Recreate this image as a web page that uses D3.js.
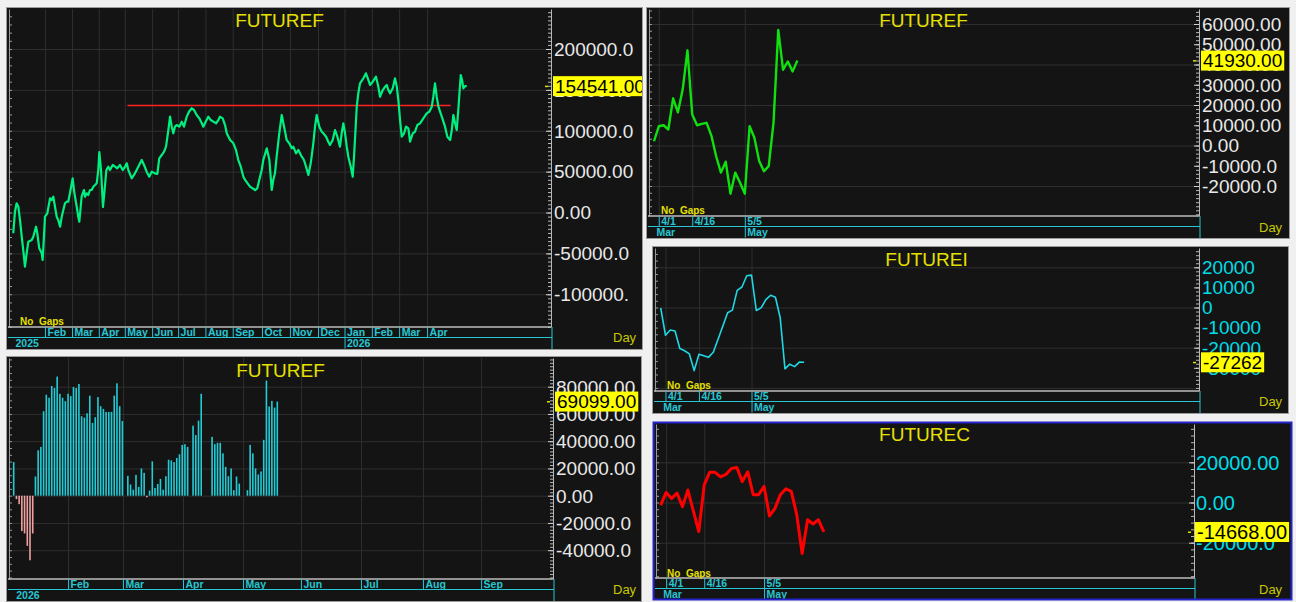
<!DOCTYPE html>
<html>
<head>
<meta charset="utf-8">
<script src="https://cdn.jsdelivr.net/npm/d3@7"></script>
<style>
body { margin: 0; background: #f0f0f0; }
svg { display: block; font-family: "Liberation Sans", Arial, sans-serif; }
</style>
</head>
<body>
<svg id="chart" width="1296" height="602"></svg>
<script>
// ---- panel 1: FUTUREF daily line, [trading-day index, value]
const p1Series = [
  [0.2,-25400],[1.5,1000],[2.8,11300],[4.1,7100],[5.4,-9200],[6.7,-29600],[7.9,-45900],[9.2,-66300],[10.5,-49900],[11.8,-35700],
  [14.4,-33600],[15.6,-29600],[17.7,-17400],[18.7,-25400],[20.2,-43800],[22.1,-49900],[22.8,-58100],[23.8,-29600],[24.6,-5100],[26.4,-1000],
  [28.5,17400],[29.8,15300],[31,19300],[32.3,7100],[33.6,-5100],[34.8,-9200],[36.2,-17400],[37.5,-5100],[38.7,3100],[40,11300],
  [41.3,13200],[42.5,13200],[43.8,23500],[45.2,35700],[45.9,41800],[46.9,27500],[47.7,19300],[49,7100],[50.2,-5100],[51,-11300],
  [52.1,7100],[52.8,19300],[53.6,23500],[54.6,27500],[55.4,19300],[56.7,23500],[57.9,21400],[59.2,27500],[60.5,27500],[61.8,31600],
  [63.1,33600],[64.4,35700],[65.6,52000],[66.4,74000],[67.7,52000],[69.2,6700],[70.8,33600],[71.8,52000],[73.3,56000],[74.6,52000],
  [76.7,58100],[78.5,56000],[80.2,54100],[82.3,58100],[84.4,52000],[86.2,56000],[87.5,60200],[88.7,52000],[91.3,41800],[93.8,47900],
  [96.4,56000],[99,64200],[100.8,58100],[102.8,49900],[104.8,43800],[106.7,49900],[109.2,47900],[111,47100],[112.5,66300],[114.4,70300],
  [116.2,74400],[117.7,80500],[119.5,100900],[120.8,117200],[122.1,105000],[123.3,96900],[124.6,105000],[125.9,107000],[127.9,105000],[129.8,111100],
  [131.5,105000],[133.6,117200],[135.4,123300],[137.5,127500],[139.2,125400],[141.3,119300],[143.3,115200],[145.2,109100],[146.4,105000],[148.2,111100],
  [150.2,117200],[152.1,113100],[154.1,111100],[156.2,109100],[157.9,113100],[159.2,117200],[161.3,115200],[163.1,107000],[164.4,96900],[167,88700],
  [169.5,84600],[171.5,76500],[173.3,64200],[175.2,56000],[177.2,43800],[178.5,39800],[182.3,31600],[186.2,27500],[187.9,29600],[190,43800],
  [191.3,52000],[192.5,64200],[195.2,78500],[197.2,64200],[199,27500],[200.2,39800],[201.5,47900],[202.8,68300],[204.8,96900],[206.7,119300],
  [208.5,105000],[210.5,88700],[212.5,84600],[214.4,78500],[215.6,80500],[217.7,72400],[219.5,76500],[222.1,68300],[223.8,64200],[225.4,56000],
  [227.2,45900],[229,60200],[231,84600],[232.3,105000],[233.6,119300],[235.6,105000],[237.5,98800],[238.7,96900],[240.8,92700],[242.5,86600],
  [243.8,82600],[245.9,88700],[247.7,100900],[249.5,92700],[251.5,80500],[252.8,96900],[254.1,109100],[255.4,96900],[256.7,80500],[257.9,68300],
  [259.8,56000],[261.3,43800],[262.3,68300],[263.3,96900],[264.4,129400],[265.6,145800],[266.9,158000],[269.5,164200],[271.5,170300],[273.3,162100],
  [274.6,156000],[276.7,160000],[279.2,166100],[281,153900],[282.3,141600],[284.4,149800],[286.2,153900],[287.5,156000],[288.7,149800],[290,145800],
  [292.1,151900],[293.8,164200],[295.2,153900],[296.4,137600],[297.7,113100],[299,92700],[300.8,96900],[302.3,105000],[304.1,103000],[305.4,86600],
  [307.5,96900],[309.2,98800],[311,107000],[313.1,109100],[315.6,115200],[318.2,121300],[320.2,123300],[322.1,129400],[323.3,141600],[324.6,158000],
  [325.9,141600],[327.2,129400],[329.8,117200],[332.3,105000],[334.1,92700],[336.2,88700],[337.5,100900],[338.7,119300],[340,109100],[341.3,100900],
  [342.5,125400],[344.4,168200],[345.4,162100],[346.4,151900],[347.7,154700],[349,154541]
];
const p1Level = { value: 131000, from: 88, to: 336.7 };
const p1MonthDay = [24.6,45.4,66,86,107,127,148,169,191.5,213,234.6,255,276,297,318.5];
const p1MonthText = ["Feb","Mar","Apr","May","Jun","Jul","Aug","Sep","Oct","Nov","Dec","Jan","Feb","Mar","Apr"];
const p1YearDay = [0,255];
const p1YearText = ["2025","2026"];
const p1TickVal = [200000,150000,100000,50000,0,-50000,-100000];
const p1TickText = ["200000.0","150000.0","100000.0","50000.00","0.00","-50000.0","-100000."];

// ---- panel 2: FUTUREF short line
const p2Value = [2100,9500,10000,7900,23300,16400,27600,47000,15300,10000,10700,11200,4900,-5300,-13400,-8000,-23800,-13400,-18400,-23800,9500,3800,-7700,-12700,-10200,11200,57100,37400,41500,36600,41930];
const p2TickVal = [60000,50000,40000,30000,20000,10000,0,-10000,-20000];
const p2TickText = ["60000.00","50000.00","40000.00","30000.00","20000.00","10000.00","0.00","-10000.0","-20000.0"];

// ---- panel 3: FUTUREI
const p3Value = [-200,-13800,-11200,-11700,-20400,-21500,-23100,-31400,-23300,-24000,-24800,-22300,-15800,-9200,-2600,-1300,8500,10200,15800,16100,-1500,-200,3900,6100,5100,-5100,-30500,-28200,-29400,-27200,-27262];
const p3TickVal = [20000,10000,0,-10000,-20000,-30000];
const p3TickText = ["20000","10000","0","-10000","-20000","-30000"];

// ---- panel 4: FUTUREF bars
const p4Value = [24700,-2500,-6200,-26000,-27700,-36800,-47400,-27700,14100,33300,35800,62000,74100,71900,80500,79000,87400,74800,71900,69400,74800,73100,79800,79000,82000,58300,57300,60500,73400,53400,57600,72400,65700,63700,61500,61500,61500,73400,82500,65700,54800,0,14600,8200,4400,15300,6400,20000,16800,-1200,3700,25200,5700,8600,12300,4400,14300,26400,25900,24700,27700,30400,37300,37800,35800,0,51400,44500,55100,74800,0,0,0,43200,37800,38800,38800,31100,21200,14300,20000,4000,14100,8900,0,0,4000,37300,31100,20000,15600,17800,41000,84500,65500,69600,64700,69099];
const p4MonthDay = [20,40.2,62.3,84.4,105.7,127.8,150.6,172];
const p4MonthText = ["Feb","Mar","Apr","May","Jun","Jul","Aug","Sep"];
const p4TickVal = [80000,60000,40000,20000,0,-20000,-40000];
const p4TickText = ["80000.00","60000.00","40000.00","20000.00","0.00","-20000.0","-40000.0"];

// ---- panel 5: FUTUREC
const p5Value = [-1300,5000,1950,4700,-2100,6200,-4200,-14500,8800,15000,15000,12700,14000,16900,17400,10400,15300,3900,3900,8000,-6700,-2900,3900,6800,5500,-5900,-25400,-8600,-10700,-8600,-14668];
const p5TickVal = [20000,0,-20000];
const p5TickText = ["20000.00","0.00","-20000.0"];

// shared short-axis labels (panels 2, 3, 5)
const shortDayIdx = [1,8,19];
const shortDayText = ["4/1","4/16","5/5"];
const shortMonthIdx = [0,19];
const shortMonthText = ["Mar","May"];

const CYAN = "#27c6d2";
const svg = d3.select("#chart");

function drawPanel(p) {
  const clipId = "clip" + p.key;
  svg.append("clipPath").attr("id", clipId).append("rect")
    .attr("x", p.box[0]).attr("y", p.box[1])
    .attr("width", p.box[2] - p.box[0]).attr("height", p.box[3] - p.box[1]);
  const g = svg.append("g").attr("clip-path", "url(#" + clipId + ")");

  g.append("rect")
    .attr("x", p.box[0]).attr("y", p.box[1])
    .attr("width", p.box[2] - p.box[0]).attr("height", p.box[3] - p.box[1])
    .attr("fill", "#141414");

  const ref = d3.scaleLinear().domain([0, p.refVal]).range([p.zeroY, p.refY]);
  const y = d3.scaleLinear().domain([ref.invert(p.bottom), ref.invert(p.top)]).range([p.bottom, p.top]);
  const x = d3.scaleLinear().domain(p.xDomain).range(p.xRange);

  // horizontal grid
  g.append("g").attr("transform", "translate(" + p.left + ",0)")
    .call(d3.axisRight(y).tickValues(p.grid).tickSize(p.axisX - p.left).tickFormat(""))
    .call(a => a.select(".domain").remove())
    .selectAll("line").attr("stroke", "#2f2f2f");

  // vertical grid
  g.append("g").attr("transform", "translate(0," + p.bottom + ")")
    .call(d3.axisTop(x).tickValues(p.vgrid).tickSize(p.bottom - p.top).tickFormat(""))
    .call(a => a.select(".domain").remove())
    .selectAll("line").attr("stroke", "#2f2f2f");

  // left edge minor ticks
  const dom = y.domain();
  const leftTicks = d3.range(Math.ceil(dom[0] / p.leftStep) * p.leftStep, dom[1], p.leftStep);
  g.append("g").attr("transform", "translate(" + (p.left + 1) + ",0)")
    .call(d3.axisRight(y).tickValues(leftTicks).tickSize(3).tickSizeOuter(0).tickFormat(""))
    .call(a => a.selectAll("line,path").attr("stroke", "#9a9a9a"));

  // right axis ticks
  const rightTicks = d3.range(Math.ceil(dom[0] / p.rightStep) * p.rightStep, dom[1], p.rightStep);
  g.append("g").attr("transform", "translate(" + p.axisX + ",0)")
    .call(d3.axisLeft(y).tickValues(rightTicks).tickSize(3).tickSizeOuter(0).tickFormat(""))
    .call(a => a.selectAll("line,path").attr("stroke", "#b8b8b8"));
  g.append("g").attr("transform", "translate(" + p.axisX + ",0)")
    .call(d3.axisLeft(y).tickValues(p.tickVal).tickSize(5).tickFormat(""))
    .call(a => a.select(".domain").remove())
    .selectAll("line").attr("stroke", "#d0d0d0");

  // series
  p.draw(g, x, y);

  // x axis area
  g.append("line").attr("x1", p.left).attr("x2", p.axisX)
    .attr("y1", p.bottom).attr("y2", p.bottom).attr("stroke", "#bdbdbd").attr("stroke-width", 1.5);
  g.append("line").attr("x1", p.left).attr("x2", p.axisX + 1)
    .attr("y1", p.bottom + 10.5).attr("y2", p.bottom + 10.5).attr("stroke", CYAN);
  g.append("line").attr("x1", p.axisX + 1).attr("x2", p.axisX + 1)
    .attr("y1", p.bottom).attr("y2", p.box[3]).attr("stroke", CYAN);

  function row(idx, text, y0, size, skipFirst) {
    const a = g.append("g").attr("transform", "translate(0," + y0 + ")")
      .call(d3.axisBottom(x).tickValues(idx).tickSize(size).tickFormat((d, i) => text[i]));
    a.select(".domain").remove();
    a.selectAll("line").attr("stroke", CYAN)
      .attr("display", d => (skipFirst && d === idx[0]) ? "none" : null);
    a.selectAll("text")
      .attr("fill", CYAN).attr("text-anchor", "start")
      .attr("x", 2).attr("y", 9).attr("dy", 0)
      .attr("font-size", 10.5).attr("font-weight", "bold")
      .attr("font-family", "'Liberation Sans', Arial, sans-serif");
  }
  row(p.row1Idx, p.row1Text, p.bottom, 10.5, false);
  row(p.row2Idx, p.row2Text, p.bottom + 10.5, 11, true);

  // texts
  const cx = (p.left + p.axisX) / 2;
  g.append("text").attr("x", cx).attr("y", p.titleY).attr("text-anchor", "middle")
    .attr("fill", "#e6e000").attr("font-size", 19).text(p.title);
  if (p.noGaps) {
    g.append("text").attr("x", p.noGaps[0]).attr("y", p.noGaps[1])
      .attr("fill", "#e6e000").attr("font-size", 10).attr("font-weight", "bold")
      .attr("xml:space", "preserve").style("white-space", "pre").text("No  Gaps");
  }
  g.append("text").attr("x", p.dayPos[0]).attr("y", p.dayPos[1])
    .attr("fill", "#c8c800").attr("font-size", 13).text("Day");

  // right axis labels
  const lab = g.append("g").attr("transform", "translate(" + (p.axisX + p.labelPad) + ",0)");
  lab.selectAll("text").data(p.tickVal).enter().append("text")
    .attr("x", 0).attr("y", d => y(d) + p.labelSize * 0.36)
    .attr("fill", p.labelColor).attr("font-size", p.labelSize)
    .text((d, i) => p.tickText[i]);

  // last value marker
  const ly = y(p.last);
  const t = lab.append("text").attr("x", 1).attr("y", ly + p.labelSize * 0.36)
    .attr("fill", "#000").attr("font-size", p.labelSize).text(p.lastText);
  const w = t.node().getComputedTextLength();
  lab.insert("rect", "text:last-child").attr("x", -1).attr("y", ly - 10)
    .attr("width", w + 4).attr("height", 20).attr("fill", "#ffff00");
  g.append("rect").attr("x", p.axisX - 6).attr("y", ly - 0.5).attr("width", 3).attr("height", 1.5).attr("fill", "#e6e000");

  // frame
  svg.append("rect")
    .attr("x", p.box[0] - 0.5).attr("y", p.box[1] - 0.5)
    .attr("width", p.box[2] - p.box[0] + 1).attr("height", p.box[3] - p.box[1] + 1)
    .attr("fill", "none").attr("stroke", p.border || "#9c9c9c").attr("stroke-width", p.borderW || 1);
}

function lineDraw(values, color, width) {
  return function (g, x, y) {
    const line = d3.line().x((d, i) => x(i)).y(d => y(d));
    g.append("path").datum(values).attr("d", line)
      .attr("fill", "none").attr("stroke", color).attr("stroke-width", width)
      .attr("stroke-linejoin", "round");
  };
}

// panel 1
drawPanel({
  key: 1, box: [7, 8, 642, 349], left: 8, top: 9, axisX: 551, bottom: 327,
  refVal: 200000, refY: 49, zeroY: 212.5,
  xDomain: [0, 349.2], xRange: [13, 467],
  grid: [200000,150000,100000,50000,0,-50000,-100000], vgrid: p1MonthDay,
  leftStep: 10000, rightStep: 5000,
  tickVal: p1TickVal, tickText: p1TickText, labelColor: "#e8e8e8", labelSize: 19, labelPad: 3,
  row1Idx: p1MonthDay, row1Text: p1MonthText, row2Idx: p1YearDay, row2Text: p1YearText,
  title: "FUTUREF", titleY: 27, noGaps: [20, 325], dayPos: [613, 342],
  last: 154541, lastText: "154541.00",
  draw: function (g, x, y) {
    g.append("line")
      .attr("x1", x(p1Level.from)).attr("x2", x(p1Level.to))
      .attr("y1", y(p1Level.value)).attr("y2", y(p1Level.value))
      .attr("stroke", "#ff2020").attr("stroke-width", 1.5);
    const line = d3.line().x(d => x(d[0])).y(d => y(d[1]));
    g.append("path").datum(p1Series).attr("d", line)
      .attr("fill", "none").attr("stroke", "#00f080").attr("stroke-width", 2.2)
      .attr("stroke-linejoin", "round");
  }
});

// panel 2
drawPanel({
  key: 2, box: [647, 8, 1289, 238], left: 648, top: 9, axisX: 1199, bottom: 216,
  refVal: 60000, refY: 24, zeroY: 145.5,
  xDomain: [0, 30], xRange: [654, 797.4],
  grid: [60000,40000,20000,0,-20000], vgrid: shortDayIdx,
  leftStep: 10000 / 3, rightStep: 2000,
  tickVal: p2TickVal, tickText: p2TickText, labelColor: "#e8e8e8", labelSize: 19, labelPad: 3,
  row1Idx: shortDayIdx, row1Text: shortDayText, row2Idx: shortMonthIdx, row2Text: shortMonthText,
  title: "FUTUREF", titleY: 27, noGaps: [661, 214], dayPos: [1259, 232],
  last: 41930, lastText: "41930.00",
  draw: lineDraw(p2Value, "#10e010", 2.4)
});

// panel 3
drawPanel({
  key: 3, box: [653, 247, 1288, 413], left: 654, top: 248, axisX: 1199, bottom: 391,
  refVal: 20000, refY: 267.3, zeroY: 307.5,
  xDomain: [0, 30], xRange: [660.7, 804.1],
  grid: [20000,0,-20000,-40000], vgrid: shortDayIdx,
  leftStep: 10000 / 3, rightStep: 2000,
  tickVal: p3TickVal, tickText: p3TickText, labelColor: "#00dce6", labelSize: 19, labelPad: 3,
  row1Idx: shortDayIdx, row1Text: shortDayText, row2Idx: shortMonthIdx, row2Text: shortMonthText,
  title: "FUTUREI", titleY: 266, noGaps: [667, 389], dayPos: [1259, 406],
  last: -27262, lastText: "-27262",
  draw: lineDraw(p3Value, "#20d8e4", 1.6)
});

// panel 4
drawPanel({
  key: 4, box: [7, 357, 641, 601], left: 8, top: 358, axisX: 553, bottom: 579,
  refVal: 80000, refY: 386.7, zeroY: 495.7,
  xDomain: [0, 97], xRange: [13.7, 277.3],
  grid: [80000,60000,40000,20000,0,-20000,-40000], vgrid: p4MonthDay,
  leftStep: 5000, rightStep: 2500,
  tickVal: p4TickVal, tickText: p4TickText, labelColor: "#e8e8e8", labelSize: 19, labelPad: 3,
  row1Idx: p4MonthDay, row1Text: p4MonthText, row2Idx: [0], row2Text: ["2026"],
  title: "FUTUREF", titleY: 377, noGaps: null, dayPos: [613, 594],
  last: 69099, lastText: "69099.00",
  draw: function (g, x, y) {
    g.selectAll(".bar").data(p4Value).enter().append("rect")
      .attr("x", (d, i) => x(i) - 0.8).attr("width", 1.6)
      .attr("y", d => Math.min(y(d), y(0)))
      .attr("height", d => Math.abs(y(d) - y(0)))
      .attr("fill", d => d >= 0 ? "#22ccd6" : "#f0a0a0");
  }
});

// panel 5
drawPanel({
  key: 5, box: [654, 423, 1291, 599], left: 655, top: 424, axisX: 1194, bottom: 578,
  refVal: 20000, refY: 462.3, zeroY: 502.5,
  xDomain: [0, 30], xRange: [660.7, 823.9],
  grid: [20000,0,-20000], vgrid: shortDayIdx,
  leftStep: 10000 / 3, rightStep: 10000 / 3,
  tickVal: p5TickVal, tickText: p5TickText, labelColor: "#00dce6", labelSize: 20, labelPad: 2,
  row1Idx: shortDayIdx, row1Text: shortDayText, row2Idx: shortMonthIdx, row2Text: shortMonthText,
  title: "FUTUREC", titleY: 441, noGaps: [667, 577], dayPos: [1259, 594],
  last: -14668, lastText: "-14668.00",
  border: "#2424c8", borderW: 2,
  draw: lineDraw(p5Value, "#ff0000", 3)
});
</script>
</body>
</html>
